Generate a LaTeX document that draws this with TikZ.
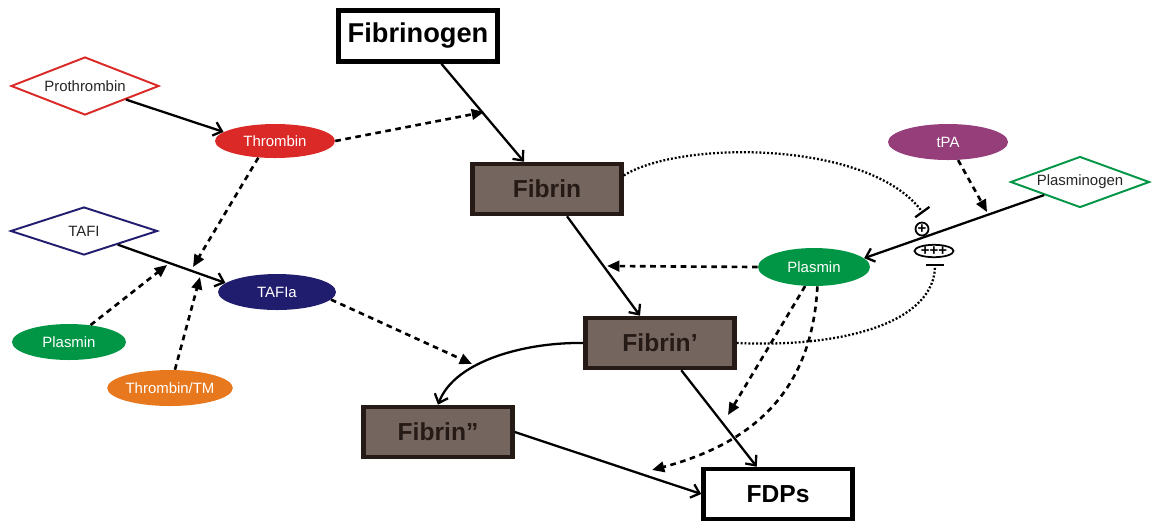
\documentclass[tikz,border=0pt]{standalone}
\usepackage{fontspec}
\setmainfont{Liberation Sans}
\usetikzlibrary{shapes.geometric,arrows.meta,calc}
\definecolor{thrombred}{RGB}{218,41,38}
\definecolor{tafinavy}{RGB}{33,29,110}
\definecolor{plasgreen}{RGB}{0,150,70}
\definecolor{tpapurple}{RGB}{150,62,122}
\definecolor{tmorange}{RGB}{232,120,30}
\definecolor{fibrinbrown}{RGB}{116,101,95}
\definecolor{fibrindark}{RGB}{38,26,22}

\tikzset{
  zymogen/.style={diamond, aspect=3, draw=#1, line width=1.1pt, fill=white, inner sep=0pt, text=black!85, font=\fontsize{8.5}{10}\selectfont},
  enzyme/.style={ellipse, fill=#1, inner sep=0pt, minimum height=0.72cm, text=white, font=\fontsize{8.5}{10}\selectfont},
  fibrinbox/.style={rectangle, draw=fibrindark, line width=2.6pt, fill=fibrinbrown, minimum width=2.98cm, minimum height=1cm, text=fibrindark, font=\bfseries\fontsize{14}{16}\selectfont},
  whitebox/.style={rectangle, draw=black, line width=2.6pt, fill=white, font=\bfseries\fontsize{15.5}{18}\selectfont},
  conv/.style={line width=1.3pt, -{Straight Barb[length=4.5pt,width=8pt]}},
  act/.style={line width=1.5pt, dash pattern=on 3.2pt off 2.6pt, -{Triangle[length=7pt,width=6pt]}},
  inh/.style={line width=1.3pt, dash pattern=on 1.1pt off 1.1pt, -{Bar[width=10pt,line width=1.3pt]}},
  signmark/.style={draw, line width=1pt, inner sep=0pt, font=\bfseries\fontsize{8.5}{8.5}\selectfont},
}

\begin{document}
\begin{tikzpicture}[x=0.02cm, y=-0.02cm]
    \useasboundingbox (0,0) rectangle (1158,522);

    % Fibrin(ogen) boxes
    \node[whitebox, minimum width=3.18cm, minimum height=1.02cm] (fgn) at (418,36) {Fibrinogen};
    \node[fibrinbox] (fib) at (547,189) {Fibrin};
    \node[fibrinbox] (fib1) at (660,343) {Fibrin’};
    \node[fibrinbox] (fib2) at (438,432) {Fibrin”};
    \node[whitebox, minimum width=2.98cm, minimum height=1cm, font=\bfseries\fontsize{14}{16}\selectfont] (fdp) at (778,494) {FDPs};

    % Zymogens
    \node[zymogen=thrombred, minimum width=2.96cm, minimum height=1.16cm] (pro) at (85,86) {Prothrombin};
    \node[zymogen=tafinavy, minimum width=2.94cm, minimum height=0.96cm] (tafi) at (84,231) {TAFI};
    \node[zymogen=plasgreen, minimum width=2.78cm, minimum height=1.02cm] (pgn) at (1080,182) {Plasminogen};

    % Enzymes
    \node[enzyme=thrombred, minimum width=2.4cm, minimum height=0.68cm] (thr) at (275,141) {Thrombin};
    \node[enzyme=tpapurple, minimum width=2.4cm] (tpa) at (948,142) {tPA};
    \node[enzyme=tafinavy, minimum width=2.36cm] (tafia) at (277,292) {TAFIa};
    \node[enzyme=plasgreen, minimum width=2.28cm] (plsl) at (69,342) {Plasmin};
    \node[enzyme=tmorange, minimum width=2.3cm] (ttm) at (170,388) {Thrombin/TM};
    \node[enzyme=plasgreen, minimum width=2.24cm, minimum height=0.76cm] (plsr) at (814,267) {Plasmin};

    % Conversions
    \draw[conv] (pro) -- (thr.170);
    \draw[conv] (fgn) -- (fib);
    \draw[conv] (fib) -- (fib1);
    \draw[conv] (fib1) -- (fdp);
    \draw[conv] (fib2.east) -- (fdp.west);
    \draw[conv] (tafi.-22) -- (tafia.170);
    \draw[conv] (pgn.200) -- (plsr.10);
    \draw[conv] (fib1.west) .. controls +(-55,-1) and +(17,-45) .. (fib2.north);

    % Activation
    \coordinate (onfgn) at (484,112);
    \coordinate (ontafiA) at (193,267);
    \coordinate (ontafiB) at (167,265);
    \coordinate (ontafiC) at (200,277);
    \coordinate (oncurve) at (472,364);
    \coordinate (onfib) at (607,266);
    \coordinate (onpgn) at (987,212);
    \coordinate (fdpA) at (728,415);
    \coordinate (fdpB) at (652,470);
    \draw[act] (thr.east) -- (onfgn);
    \draw[act] (thr.225) -- (ontafiA);
    \draw[act] (plsl) -- (ontafiB);
    \draw[act] (ttm) -- (ontafiC);
    \draw[act] (tafia.-8) -- (oncurve);
    \draw[act] (plsr.west) -- (onfib);
    \draw[act] (tpa) -- (onpgn);
    \draw[act] (plsr.245) -- (fdpA);
    \draw[act] (plsr.280) .. controls +(-5,94) and +(113,-30) .. (fdpB);

    % Inhibition
    \coordinate (barA) at (923,213);
    \coordinate (barB) at (935,264);
    \draw[inh] (fib.10) .. controls (680,140) and (870,140) .. (barA);
    \draw[inh] (fib1.east) .. controls +(113,5) and +(0,56) .. (barB);
    \node[signmark, circle, minimum size=0.26cm] (plus) at (922,229) {+};
    \node[signmark, ellipse, minimum width=0.78cm, minimum height=0.23cm] (pplus) at (934,251) {+++};
\end{tikzpicture}
\end{document}
